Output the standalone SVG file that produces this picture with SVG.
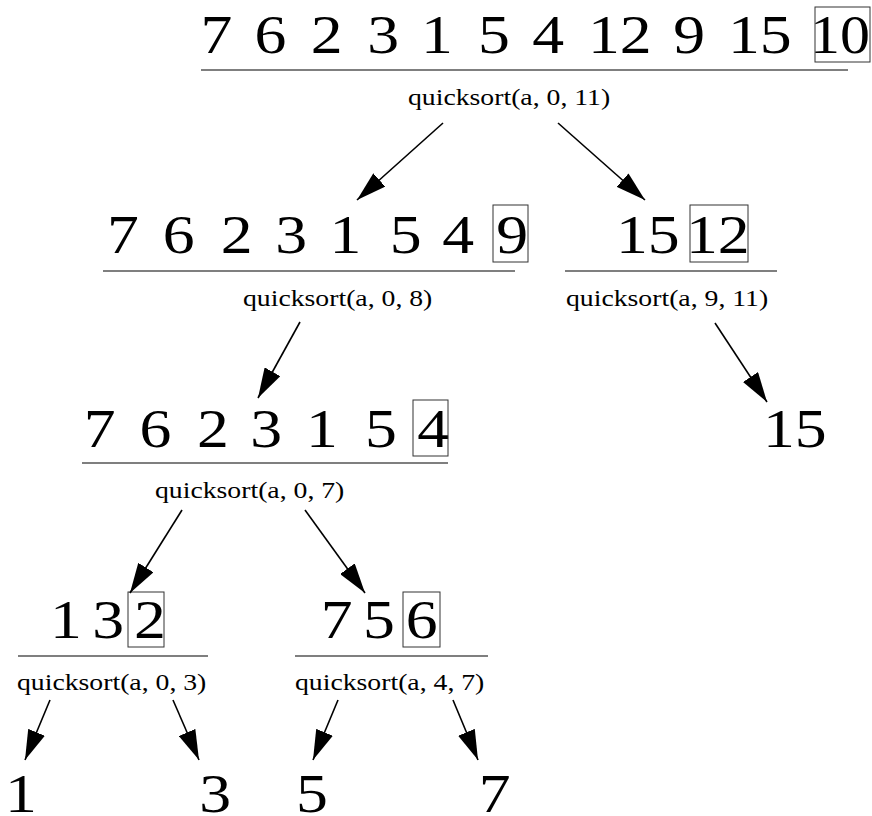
<svg xmlns="http://www.w3.org/2000/svg" width="872" height="816" viewBox="0 0 872 816">
<style>
.d{font-family:"Liberation Serif","Times New Roman",Tinos,serif;font-size:54px;fill:#000}
.q{font-family:"Liberation Serif","Times New Roman",Tinos,serif;font-size:23.5px;fill:#000}
.bx{fill:none;stroke:#333;stroke-width:1}
.ul{stroke:#000;stroke-width:1.2}
.ar{stroke:#000;stroke-width:1.6;fill:none;marker-end:url(#ah)}
</style>
<defs>
<marker id="ah" markerUnits="userSpaceOnUse" markerWidth="30" markerHeight="18" refX="30" refY="9" orient="auto">
<path d="M0,0 L30,9 L0,18 z" fill="#000"/>
</marker>
</defs>
<rect width="872" height="816" fill="#fff"/>

<g id="n-root">
<text class="d" transform="translate(200.4,53) scale(1.18,1)">7</text>
<text class="d" transform="translate(254.5,53) scale(1.18,1)">6</text>
<text class="d" transform="translate(310.7,53) scale(1.18,1)">2</text>
<text class="d" transform="translate(367.3,53) scale(1.18,1)">3</text>
<text class="d" transform="translate(420.9,53) scale(1.18,1)">1</text>
<text class="d" transform="translate(478,53) scale(1.18,1)">5</text>
<text class="d" transform="translate(532.2,53) scale(1.18,1)">4</text>
<text class="d" transform="translate(587.9,53) scale(1.18,1)">12</text>
<text class="d" transform="translate(673.3,53) scale(1.18,1)">9</text>
<text class="d" transform="translate(727.9,53) scale(1.18,1)">15</text>
<text class="d" transform="translate(810,53) scale(1.11,1)">10</text>
<rect class="bx" x="815" y="7" width="55" height="55"/>
<line class="ul" x1="201" y1="70" x2="848" y2="70"/>
<text class="q" transform="translate(408,105) scale(1.18,1)">quicksort(a, 0, 11)</text>
</g>

<g id="n-0-8">
<text class="d" transform="translate(107,253) scale(1.18,1)">7</text>
<text class="d" transform="translate(162.8,253) scale(1.18,1)">6</text>
<text class="d" transform="translate(220.7,253) scale(1.18,1)">2</text>
<text class="d" transform="translate(275.3,253) scale(1.18,1)">3</text>
<text class="d" transform="translate(329.6,253) scale(1.18,1)">1</text>
<text class="d" transform="translate(389.7,253) scale(1.18,1)">5</text>
<text class="d" transform="translate(442.2,253) scale(1.18,1)">4</text>
<text class="d" transform="translate(496.3,253) scale(1.18,1)">9</text>
<rect class="bx" x="493" y="205" width="35" height="57"/>
<line class="ul" x1="103" y1="271" x2="515" y2="271"/>
<text class="q" transform="translate(243,306) scale(1.18,1)">quicksort(a, 0, 8)</text>
</g>

<g id="n-9-11">
<text class="d" transform="translate(616,253) scale(1.18,1)">15</text>
<text class="d" transform="translate(686,253) scale(1.18,1)">12</text>
<rect class="bx" x="690" y="205" width="58" height="57"/>
<line class="ul" x1="565" y1="271" x2="777" y2="271"/>
<text class="q" transform="translate(566,306) scale(1.18,1)">quicksort(a, 9, 11)</text>
</g>

<g id="n-0-7">
<text class="d" transform="translate(83.7,447) scale(1.18,1)">7</text>
<text class="d" transform="translate(139.5,447) scale(1.18,1)">6</text>
<text class="d" transform="translate(197,447) scale(1.18,1)">2</text>
<text class="d" transform="translate(250.3,447) scale(1.18,1)">3</text>
<text class="d" transform="translate(305.9,447) scale(1.18,1)">1</text>
<text class="d" transform="translate(365,447) scale(1.18,1)">5</text>
<text class="d" transform="translate(417.2,447) scale(1.18,1)">4</text>
<rect class="bx" x="413" y="400" width="35" height="56"/>
<line class="ul" x1="82" y1="463" x2="448" y2="463"/>
<text class="q" transform="translate(155,498) scale(1.18,1)">quicksort(a, 0, 7)</text>
</g>

<g id="n-0-3">
<text class="d" transform="translate(50,638) scale(1.18,1)">1</text>
<text class="d" transform="translate(92.3,638) scale(1.18,1)">3</text>
<text class="d" transform="translate(134,638) scale(1.18,1)">2</text>
<rect class="bx" x="128" y="592" width="36" height="55"/>
<line class="ul" x1="18" y1="656" x2="208" y2="656"/>
<text class="q" transform="translate(17,690) scale(1.18,1)">quicksort(a, 0, 3)</text>
</g>

<g id="n-4-7">
<text class="d" transform="translate(320.7,638) scale(1.18,1)">7</text>
<text class="d" transform="translate(363,638) scale(1.18,1)">5</text>
<text class="d" transform="translate(405.8,638) scale(1.18,1)">6</text>
<rect class="bx" x="403" y="592" width="37" height="55"/>
<line class="ul" x1="295" y1="656" x2="488" y2="656"/>
<text class="q" transform="translate(295,690) scale(1.18,1)">quicksort(a, 4, 7)</text>
</g>

<g id="leaf-15"><text class="d" transform="translate(763,447) scale(1.18,1)">15</text></g>
<g id="leaf-1"><text class="d" transform="translate(5,812) scale(1.18,1)">1</text></g>
<g id="leaf-3"><text class="d" transform="translate(199.3,812) scale(1.18,1)">3</text></g>
<g id="leaf-5"><text class="d" transform="translate(296,812) scale(1.18,1)">5</text></g>
<g id="leaf-7"><text class="d" transform="translate(478.7,812) scale(1.18,1)">7</text></g>

<g id="connectors">
<line class="ar" x1="443" y1="123" x2="357" y2="200"/>
<line class="ar" x1="558" y1="123" x2="645" y2="200"/>
<line class="ar" x1="300" y1="322" x2="258" y2="398"/>
<line class="ar" x1="715" y1="323" x2="767" y2="402"/>
<line class="ar" x1="182" y1="510" x2="130" y2="593"/>
<line class="ar" x1="305" y1="510" x2="365" y2="593"/>
<line class="ar" x1="50" y1="700" x2="25" y2="760"/>
<line class="ar" x1="173" y1="700" x2="199" y2="760"/>
<line class="ar" x1="338" y1="700" x2="313" y2="760"/>
<line class="ar" x1="453" y1="700" x2="478" y2="760"/>
</g>
</svg>
